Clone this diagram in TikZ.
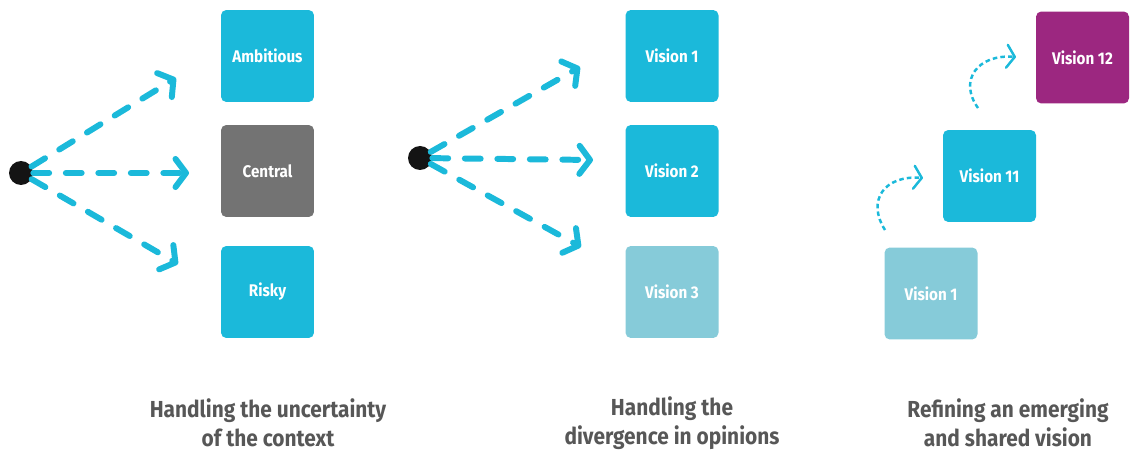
\documentclass[tikz,border=0pt]{standalone}
\usepackage{fontspec}
\setmainfont{Fira Sans}[FakeStretch=0.9]
\usetikzlibrary{arrows.meta, positioning}
\definecolor{visblue}{HTML}{1BB9DA}
\definecolor{visgray}{HTML}{737373}
\definecolor{vislight}{HTML}{86CBD9}
\definecolor{vispurple}{HTML}{9C2780}
\definecolor{captgray}{HTML}{575757}

\tikzset{
  card/.style={draw=none, rounded corners=3pt, minimum width=1.86cm, minimum height=1.84cm,
    text=white, font=\fontsize{9.6}{11}\selectfont\bfseries},
  origin/.style={circle, fill=black!92, inner sep=0pt, minimum size=0.48cm},
  fan/.style={visblue, line width=3.4pt, line cap=round, dash pattern=on 9pt off 9.5pt,
    -{Straight Barb[length=6pt, width=16pt, round]}},
  hop/.style={visblue, line width=1.4pt, dash pattern=on 2.6pt off 1.8pt,
    -{Straight Barb[length=4.5pt, width=13pt, round]}},
  caption/.style={align=center, text=captgray, font=\fontsize{13.2}{16.5}\selectfont\bfseries}
}

\begin{document}
\begin{tikzpicture}[x=0.02cm, y=-0.02cm]
  \useasboundingbox (0,0) rectangle (1131,455);

  % Uncertainty of the context
  \node[card, fill=visblue] (amb) at (267.5,56) {Ambitious};
  \node[card, fill=visgray] (cen) at (267.5,171) {Central};
  \node[card, fill=visblue] (risk) at (267.5,292) {Risky};
  \node[origin] (dotA) at (21,173) {};
  \coordinate (a1) at (176,78);
  \coordinate (a2) at (189,173);
  \coordinate (a3) at (178,264);
  \draw[fan] (dotA) -- (a1);
  \draw[fan] (dotA) -- (a2);
  \draw[fan] (dotA) -- (a3);

  % Divergence in opinions
  \node[card, fill=visblue] (v1) at (672,56) {Vision 1};
  \node[card, fill=visblue] (v2) at (672,171) {Vision 2};
  \node[card, fill=vislight] (v3) at (672,292) {Vision 3};
  \node[origin] (dotB) at (420,158) {};
  \coordinate (b1) at (580,67);
  \coordinate (b2) at (593,160);
  \coordinate (b3) at (581,247);
  \draw[fan] (dotB) -- (b1);
  \draw[fan] (dotB) -- (b2);
  \draw[fan] (dotB) -- (b3);

  % Emerging and shared vision
  \node[card, fill=vislight] (s1) at (931,293.5) {Vision 1};
  \node[card, fill=visblue] (s11) at (989.5,176) {Vision 11};
  \node[card, fill=vispurple] (s12) at (1082.5,57.5) {Vision 12};
  \coordinate (c1) at (885,230);
  \coordinate (c2) at (923,178);
  \coordinate (c3) at (978,108);
  \coordinate (c4) at (1016,57);
  \draw[hop] (c1) .. controls (866,200) and (885,175) .. (c2);
  \draw[hop] (c3) .. controls (958,80) and (978,54) .. (c4);

  % Captions
  \node[caption] (capA) at (268,423) {Handling the uncertainty\\of the context};
  \node[caption] (capB) at (672,423) {Handling the\\divergence in opinions};
  \node[caption] (capC) at (1008,423) {Refining an emerging\\and shared vision};
\end{tikzpicture}
\end{document}
